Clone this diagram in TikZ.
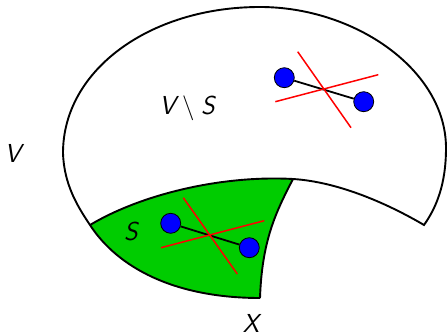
\documentclass[tikz,border=0pt]{standalone}
\definecolor{regiongreen}{RGB}{0,204,0}
\definecolor{dotblue}{RGB}{0,0,255}
\definecolor{cutred}{RGB}{255,0,0}
\tikzset{
  outline/.style={draw=black, line width=1.9pt},
  dotnode/.style={circle, fill=dotblue, draw=black, line width=0.8pt, minimum size=20pt, inner sep=0pt},
  link/.style={draw=black, line width=1.8pt},
  cutline/.style={draw=cutred, line width=1.5pt},
  lbl/.style={font=\fontsize{26}{30}\selectfont\sffamily\itshape, inner sep=0pt}
}
\begin{document}
\begin{tikzpicture}[x=1pt, y=-1pt]
\useasboundingbox (0,0) rectangle (447,336);
% key points
\coordinate (gl) at (90,225);
\coordinate (gt) at (293,179);
\coordinate (gb) at (260,298);
\coordinate (tip) at (424,225);
% green region S
\fill[regiongreen] (gl) .. controls (140,195) and (220,175) .. (gt)
  .. controls (276,212) and (262,240) .. (gb)
  .. controls (175,298) and (118,268) .. (gl) -- cycle;
% outer outline of V
\draw[outline] (gb) .. controls (262,240) and (276,212) .. (gt)
  .. controls (340,182) and (390,205) .. (tip)
  .. controls (436,208) and (446,185) .. (446,148)
  .. controls (446,70) and (355,7) .. (260,7)
  .. controls (150,7) and (63,70) .. (63,153)
  .. controls (64,185) and (78,207) .. (gl)
  .. controls (118,268) and (175,298) .. (gb);
% boundary between S and V\S
\draw[outline] (gl) .. controls (140,195) and (220,175) .. (gt);
% upper pair
\node[dotnode] (a1) at (284.3,77.7) {};
\node[dotnode] (a2) at (363.7,101.7) {};
\draw[link] (a1) -- (a2);
\coordinate (ra1) at (297.7,51.7);
\coordinate (ra2) at (351,127.7);
\coordinate (ra3) at (275.3,101.7);
\coordinate (ra4) at (378.3,74.7);
\draw[cutline] (ra1) -- (ra2);
\draw[cutline] (ra3) -- (ra4);
% lower pair
\node[dotnode] (b1) at (170.7,223.3) {};
\node[dotnode] (b2) at (249.3,247.7) {};
\draw[link] (b1) -- (b2);
\coordinate (rb1) at (183.3,197.7);
\coordinate (rb2) at (237.3,274);
\coordinate (rb3) at (161,247.7);
\coordinate (rb4) at (264.3,220.7);
\draw[cutline] (rb1) -- (rb2);
\draw[cutline] (rb3) -- (rb4);
% labels
\node[lbl] (lv) at (12.8,153) {V};
\node[lbl] (lvs) at (187,108) {V\hspace{0.25em}$\setminus$\hspace{0.25em}S};
\node[lbl] (ls) at (131,231.7) {S};
\node[lbl] (lx) at (251,323) {X};
\end{tikzpicture}
\end{document}
